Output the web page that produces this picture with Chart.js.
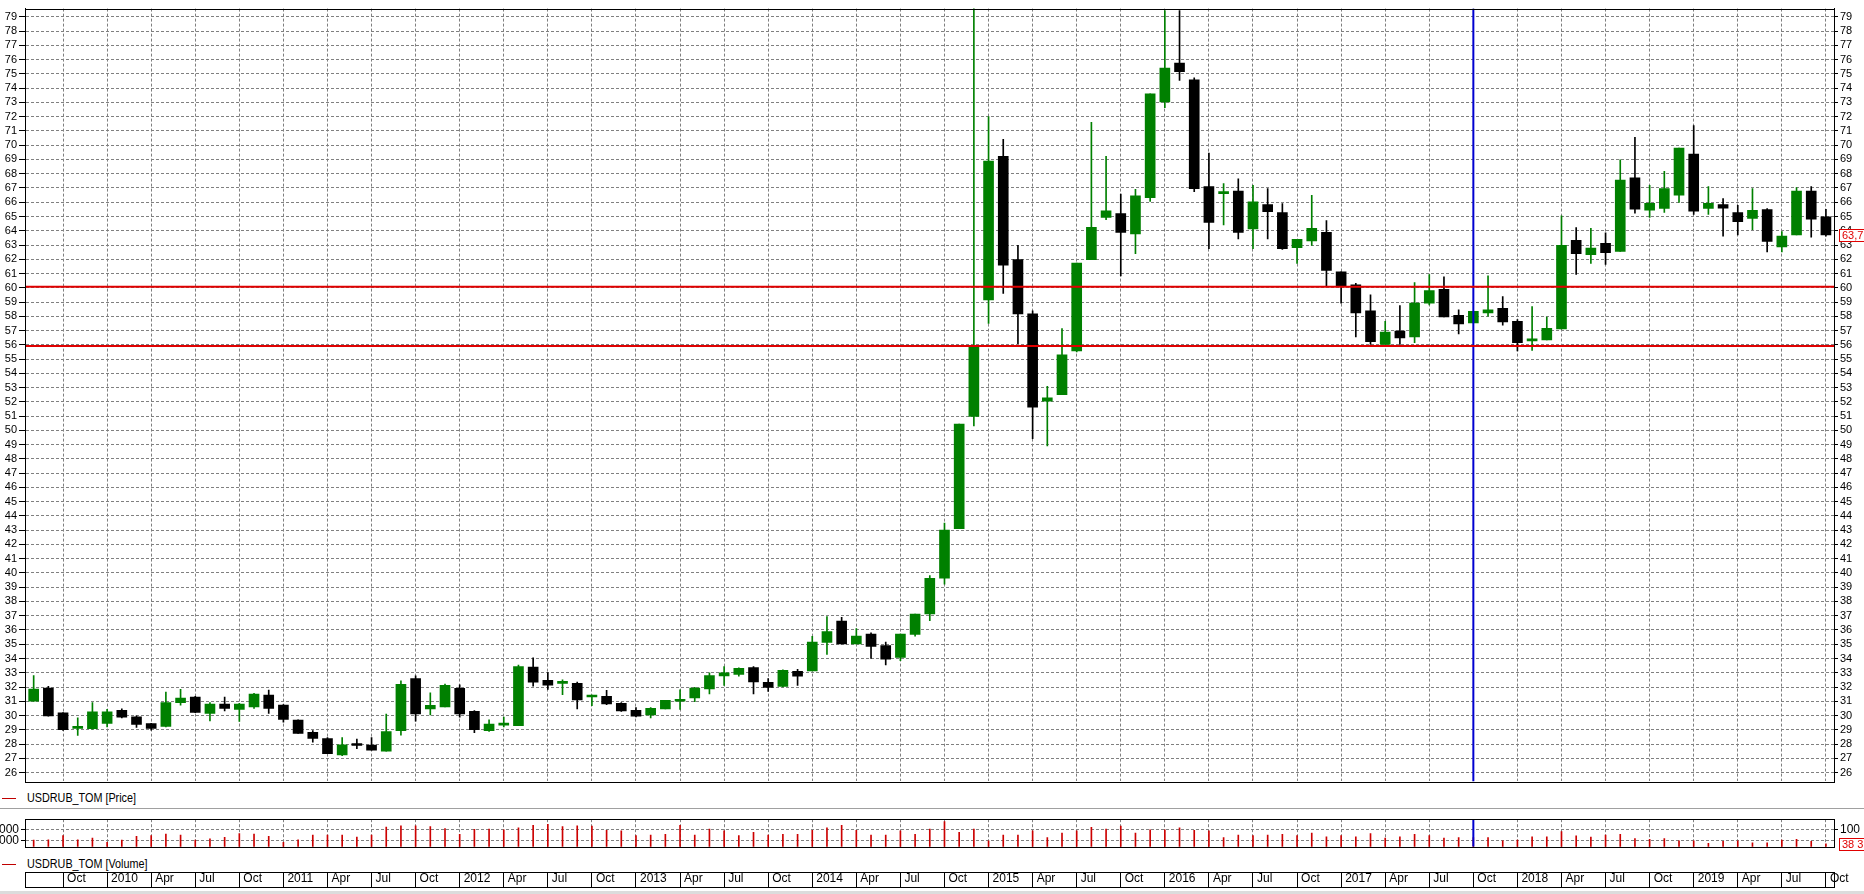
<!DOCTYPE html>
<html>
<head>
<meta charset="utf-8">
<script src="https://cdn.jsdelivr.net/npm/chart.js@4.4.0/dist/chart.umd.min.js"></script>
<style>
  html, body { margin: 0; padding: 0; background: #fff; }
  body { width: 1864px; height: 894px; position: relative; overflow: hidden;
         font-family: 'Liberation Sans', Arial, sans-serif; }
  canvas { position: absolute; left: 0; }
  .legend { position: absolute; left: 0; width: 400px; height: 14px; font-size: 12px; line-height: 14px; }
  .legend .dash { position: absolute; left: 2px; top: 7px; width: 14px; height: 1px; background: #c00000; }
  .legend .txt { position: absolute; left: 27px; top: 0; white-space: nowrap;
                 transform: scaleX(0.9); transform-origin: 0 0; }
  #sep { position: absolute; left: 0; top: 808px; width: 1864px; height: 1px; background: #a0a0a0; }
  #scroll { position: absolute; left: 0; top: 891px; width: 1864px; height: 3px; background: #dcdcdc; }
</style>
</head>
<body>
<canvas id="price" width="1864" height="790" style="top:0px"></canvas>
<div class="legend" style="top:791px"><span class="dash"></span><span class="txt">USDRUB_TOM [Price]</span></div>
<div id="sep"></div>
<canvas id="volume" width="1864" height="46" style="top:810px"></canvas>
<div class="legend" style="top:857px"><span class="dash"></span><span class="txt">USDRUB_TOM [Volume]</span></div>
<canvas id="dates" width="1864" height="22" style="top:870px"></canvas>
<div id="scroll"></div>
<script>
// monthly candles, Aug 2009 - Oct 2019
var months = [
  '2009-08','2009-09','2009-10','2009-11','2009-12',
  '2010-01','2010-02','2010-03','2010-04','2010-05','2010-06','2010-07','2010-08','2010-09','2010-10','2010-11','2010-12',
  '2011-01','2011-02','2011-03','2011-04','2011-05','2011-06','2011-07','2011-08','2011-09','2011-10','2011-11','2011-12',
  '2012-01','2012-02','2012-03','2012-04','2012-05','2012-06','2012-07','2012-08','2012-09','2012-10','2012-11','2012-12',
  '2013-01','2013-02','2013-03','2013-04','2013-05','2013-06','2013-07','2013-08','2013-09','2013-10','2013-11','2013-12',
  '2014-01','2014-02','2014-03','2014-04','2014-05','2014-06','2014-07','2014-08','2014-09','2014-10','2014-11','2014-12',
  '2015-01','2015-02','2015-03','2015-04','2015-05','2015-06','2015-07','2015-08','2015-09','2015-10','2015-11','2015-12',
  '2016-01','2016-02','2016-03','2016-04','2016-05','2016-06','2016-07','2016-08','2016-09','2016-10','2016-11','2016-12',
  '2017-01','2017-02','2017-03','2017-04','2017-05','2017-06','2017-07','2017-08','2017-09','2017-10','2017-11','2017-12',
  '2018-01','2018-02','2018-03','2018-04','2018-05','2018-06','2018-07','2018-08','2018-09','2018-10','2018-11','2018-12',
  '2019-01','2019-02','2019-03','2019-04','2019-05','2019-06','2019-07','2019-08','2019-09','2019-10'
];

var opens = [
  31.0, 31.93, 30.19, 29.1, 29.08,
  29.45, 30.37, 29.91, 29.43, 29.24, 30.9, 31.3, 30.14, 30.81, 30.42, 30.6, 31.44,
  30.74, 29.68, 28.82, 28.38, 27.23, 27.95, 27.92, 27.5, 28.94, 32.6, 30.47, 30.61,
  31.9, 30.3, 28.94, 29.33, 29.29, 33.4, 32.46, 32.25, 32.25, 31.3, 31.35, 30.86,
  30.37, 30.05, 30.47, 31.0, 31.23, 31.86, 32.78, 32.88, 33.36, 32.33, 32.04, 33.1,
  33.12, 35.13, 36.63, 35.03, 35.72, 34.91, 34.07, 35.68, 37.13, 39.64, 43.11, 50.97,
  59.15, 69.22, 61.97, 58.18, 52.05, 52.51, 55.57, 61.97, 64.94, 65.21, 63.78, 66.32,
  73.03, 75.76, 74.58, 67.09, 66.6, 66.79, 64.12, 65.84, 65.28, 62.81, 63.29, 63.89,
  61.12, 60.2, 58.39, 56.03, 56.96, 56.56, 58.92, 59.89, 58.07, 57.53, 58.23, 58.55,
  57.65, 56.28, 56.35, 57.12, 63.32, 62.32, 63.12, 62.55, 67.71, 65.44, 65.56, 66.49,
  69.38, 65.56, 65.84, 65.28, 64.87, 65.49, 62.86, 63.71, 66.79, 64.98
];
var highs = [
  32.8, 32.05, 30.2, 29.84, 30.9,
  30.44, 30.47, 29.98, 29.45, 31.65, 31.83, 31.35, 30.9, 31.3, 30.85, 31.55, 31.79,
  30.76, 29.7, 28.94, 28.45, 28.45, 28.34, 28.45, 30.1, 32.43, 32.78, 31.6, 32.2,
  32.16, 30.35, 29.7, 29.89, 33.54, 34.05, 33.01, 32.5, 32.34, 31.44, 31.76, 30.9,
  30.56, 30.56, 31.07, 31.81, 31.97, 32.99, 33.43, 33.35, 33.43, 32.59, 33.2, 33.24,
  35.56, 36.94, 36.89, 36.1, 35.8, 35.15, 35.72, 37.11, 39.81, 43.49, 50.44, 79.6,
  72.0, 70.42, 62.97, 58.39, 53.09, 57.14, 61.74, 71.6, 69.22, 66.58, 66.9, 73.61,
  79.44, 79.44, 74.72, 69.45, 67.3, 67.64, 67.18, 66.95, 65.91, 63.39, 66.49, 64.71,
  61.12, 60.31, 59.5, 57.65, 58.76, 60.36, 60.93, 60.77, 58.46, 58.34, 60.84, 59.38,
  57.77, 58.69, 57.95, 65.05, 64.22, 64.17, 63.85, 68.98, 70.56, 67.18, 68.17, 69.79,
  71.37, 67.09, 66.26, 65.79, 66.95, 65.56, 63.94, 67.02, 67.09, 65.51
];
var lows = [
  31.0, 29.95, 28.95, 28.6, 29.05,
  29.2, 29.84, 29.17, 28.98, 29.2, 30.72, 30.2, 29.63, 30.33, 29.59, 30.49, 30.14,
  29.54, 28.75, 28.13, 27.32, 27.18, 27.67, 27.57, 27.5, 28.62, 29.61, 30.05, 30.61,
  29.89, 28.8, 28.89, 29.2, 29.29, 32.06, 31.83, 31.46, 30.47, 30.7, 30.77, 30.28,
  29.91, 29.84, 30.47, 30.42, 30.98, 31.51, 32.11, 32.76, 31.52, 31.69, 32.0, 32.12,
  33.12, 34.29, 35.03, 35.03, 34.0, 33.55, 33.84, 35.56, 36.66, 39.21, 43.11, 50.32,
  57.5, 59.6, 56.08, 49.41, 48.9, 52.51, 55.5, 61.97, 64.77, 60.84, 62.39, 66.05,
  72.64, 74.54, 66.74, 62.74, 64.4, 63.43, 62.74, 63.43, 62.69, 61.7, 62.97, 60.12,
  58.92, 56.56, 56.03, 56.03, 56.03, 56.15, 58.8, 57.95, 56.77, 57.53, 58.0, 57.37,
  55.57, 55.61, 56.35, 57.12, 60.93, 61.7, 61.63, 62.55, 65.24, 64.94, 65.28, 65.98,
  65.14, 65.14, 63.62, 63.71, 64.08, 62.51, 62.51, 63.71, 63.55, 63.62
];
var closes = [
  31.85, 29.98, 29.0, 29.2, 30.26,
  30.26, 29.89, 29.38, 29.1, 30.9, 31.23, 30.21, 30.81, 30.49, 30.81, 31.5, 30.49,
  29.73, 28.75, 28.4, 27.32, 27.94, 27.9, 27.57, 28.87, 32.18, 30.12, 30.72, 32.11,
  30.12, 29.01, 29.4, 29.4, 33.43, 32.34, 32.13, 32.3, 31.09, 31.35, 30.81, 30.33,
  29.96, 30.51, 31.07, 31.05, 31.92, 32.8, 32.99, 33.31, 32.35, 31.97, 33.17, 32.76,
  35.15, 35.89, 35.03, 35.58, 34.84, 33.96, 35.72, 37.11, 39.62, 43.01, 50.44, 55.89,
  68.89, 61.58, 58.16, 51.63, 52.28, 55.29, 61.74, 64.24, 65.4, 63.89, 66.44, 73.61,
  75.41, 75.16, 66.95, 64.59, 66.65, 63.89, 66.02, 65.33, 62.74, 63.39, 64.17, 61.21,
  60.15, 58.23, 56.22, 56.89, 56.49, 58.92, 59.8, 57.95, 57.46, 58.34, 58.46, 57.6,
  56.15, 56.35, 57.16, 62.97, 62.39, 62.78, 62.46, 67.55, 65.51, 65.93, 66.95, 69.79,
  65.37, 65.93, 65.58, 64.63, 65.44, 63.25, 63.62, 66.79, 64.82, 63.7
];
var volumes = [
  40, 42, 67, 42, 51,
  27, 40, 62, 67, 76, 70, 40, 47, 56, 79, 76, 62,
  26, 42, 70, 70, 70, 58, 70, 117, 124, 124, 120, 108,
  74, 103, 105, 100, 112, 127, 133, 120, 124, 123, 97, 94,
  67, 70, 74, 127, 70, 105, 94, 67, 86, 70, 74, 74,
  97, 112, 127, 97, 70, 70, 94, 74, 105, 150, 86, 105,
  36, 70, 70, 94, 55, 82, 94, 115, 105, 123, 82, 100,
  100, 112, 97, 94, 55, 70, 67, 70, 74, 67, 82, 59,
  67, 59, 79, 51, 59, 74, 67, 51, 55, 55, 55, 36,
  40, 59, 59, 90, 65, 57, 70, 74, 49, 44, 49, 36,
  36, 21, 33, 36, 24, 24, 40, 44, 33, 18
];
var levels = [60.07, 55.92];
var markerMonth = '2017-10';
var volumeTicks = [36.4, 100];
var volumeLeftLabels = ['100000', '200000'];
var volumeBoxText = '38 3';

var FONT = "'Liberation Sans', Arial, sans-serif";
Chart.defaults.font.family = FONT;
Chart.defaults.color = '#000';

var GREEN = '#008000';
var GRID = '#808080';
var xMin = -0.59, xMax = months.length - 1 + 0.55;
var priceMin = 25.38, priceMax = 79.58;
var volMax = 163.6;
var markerX = months.indexOf(markerMonth);

var quarterIdx = [];
months.forEach(function(m, i) {
  if (['01', '04', '07', '10'].indexOf(m.slice(5)) >= 0) quarterIdx.push(i);
});
function quarterLabel(i) {
  var m = months[i], mm = m.slice(5);
  if (mm === '01') return m.slice(0, 4);
  return {'04': 'Apr', '07': 'Jul', '10': 'Oct'}[mm];
}
function quarterTicks(scale) {
  scale.ticks = quarterIdx.map(function(v) { return {value: v}; });
}
function priceTicks(scale) {
  var t = [];
  for (var v = Math.ceil(priceMin); v <= Math.floor(priceMax); v++) t.push({value: v});
  scale.ticks = t;
}
function halfTicks(scale) {
  var t = [];
  for (var v = Math.ceil(priceMin); v <= Math.floor(priceMax); v++) t.push({value: v - 0.5});
  scale.ticks = t;
}

var candleColors = closes.map(function(c, i) { return c >= opens[i] ? GREEN : '#000000'; });
var bodies = opens.map(function(o, i) { return {x: i, y: [o, closes[i]]}; });
var wicks = lows.map(function(l, i) { return {x: i, y: [l, highs[i]]}; });

// border round the plot area
var frame = {
  id: 'frame',
  afterDraw: function(chart) {
    var a = chart.chartArea, ctx = chart.ctx;
    ctx.save();
    ctx.strokeStyle = '#000';
    ctx.lineWidth = 1;
    ctx.strokeRect(Math.round(a.left) + 0.5, Math.round(a.top) + 0.5,
                   Math.round(a.right - a.left), Math.round(a.bottom - a.top));
    ctx.restore();
  }
};

// border round the date strip (the x axis box itself)
var dateFrame = {
  id: 'dateFrame',
  afterDraw: function(chart) {
    var s = chart.scales.x, ctx = chart.ctx;
    ctx.save();
    ctx.strokeStyle = '#000';
    ctx.lineWidth = 1;
    ctx.strokeRect(Math.round(s.left) + 0.5, Math.round(s.top) + 0.5,
                   Math.round(s.right - s.left), Math.round(s.bottom - s.top) - 1);
    ctx.restore();
  }
};

// red box with the last value on the right scale
function valueBox(scaleId, value, text) {
  return {
    id: 'valueBox',
    afterDraw: function(chart) {
      var ctx = chart.ctx, a = chart.chartArea;
      var y = Math.round(chart.scales[scaleId].getPixelForValue(value));
      ctx.save();
      ctx.fillStyle = '#fff';
      ctx.fillRect(a.right + 5, y - 6, 40, 13);
      ctx.strokeStyle = '#e00000';
      ctx.lineWidth = 1;
      ctx.strokeRect(a.right + 5.5, y - 5.5, 40, 12);
      ctx.fillStyle = '#e00000';
      ctx.font = '11px ' + FONT;
      ctx.textBaseline = 'middle';
      ctx.fillText(text, a.right + 8, y + 1);
      ctx.restore();
    }
  };
}

// half-unit minor tick marks, no labels, zero width so they sit on the main axis line
function minorAxis(position) {
  return {
    position: position, min: priceMin, max: priceMax,
    afterBuildTicks: halfTicks,
    afterFit: function(s) { s.width = 0; },
    ticks: {display: false, autoSkip: false},
    grid: {drawOnChartArea: false, tickColor: '#000', tickLength: 3},
    border: {display: false}
  };
}

var tickFont = {size: 11};

// price panel
new Chart(document.getElementById('price'), {
  type: 'bar',
  data: {
    datasets: [
      {type: 'line', data: [{x: xMin, y: levels[0]}, {x: xMax, y: levels[0]}],
       borderColor: '#e00000', borderWidth: 2, pointRadius: 0, order: 0},
      {type: 'line', data: [{x: xMin, y: levels[1]}, {x: xMax, y: levels[1]}],
       borderColor: '#e00000', borderWidth: 2, pointRadius: 0, order: 0},
      {type: 'line', data: [{x: markerX, y: priceMin}, {x: markerX, y: priceMax}],
       borderColor: '#0000d0', borderWidth: 2, pointRadius: 0, order: 0},
      {data: bodies, backgroundColor: candleColors, barThickness: 10, minBarLength: 2,
       grouped: false, order: 2},
      {data: wicks, backgroundColor: candleColors, barThickness: 1, grouped: false, order: 3}
    ]
  },
  options: {
    responsive: false,
    animation: false,
    layout: {padding: {top: 4, left: 0, right: 0, bottom: 0}},
    plugins: {legend: {display: false}, tooltip: {enabled: false}},
    scales: {
      x: {
        type: 'linear', min: xMin, max: xMax, offset: false,
        afterBuildTicks: quarterTicks,
        afterFit: function(s) { s.height = 5; },
        ticks: {display: false},
        grid: {color: GRID, drawTicks: false, offset: false},
        border: {display: false, dash: [3, 2]}
      },
      y: {
        position: 'left', min: priceMin, max: priceMax,
        afterBuildTicks: priceTicks,
        afterFit: function(s) { s.width = 25; },
        ticks: {font: tickFont, padding: 2, autoSkip: false},
        grid: {color: GRID, tickColor: '#000', tickLength: 6},
        border: {display: true, color: '#000', dash: [3, 2]}
      },
      yMinor: minorAxis('left'),
      y2: {
        position: 'right', min: priceMin, max: priceMax,
        afterBuildTicks: priceTicks,
        afterFit: function(s) { s.width = 30; },
        ticks: {font: tickFont, padding: 2, autoSkip: false},
        grid: {drawOnChartArea: false, tickColor: '#000', tickLength: 4},
        border: {display: true, color: '#000'}
      },
      y2Minor: minorAxis('right')
    }
  },
  plugins: [frame, valueBox('y2', closes[closes.length - 1],
                            closes[closes.length - 1].toFixed(1).replace('.', ','))]
});

// volume panel
new Chart(document.getElementById('volume'), {
  type: 'bar',
  data: {
    datasets: [
      {type: 'line', data: [{x: markerX, y: 0}, {x: markerX, y: volMax}],
       borderColor: '#0000d0', borderWidth: 2, pointRadius: 0, order: 0},
      {data: volumes.map(function(v, i) { return {x: i, y: v}; }),
       backgroundColor: '#cc0000', barThickness: 1, grouped: false, order: 1}
    ]
  },
  options: {
    responsive: false,
    animation: false,
    layout: {padding: {top: 5, left: 0, right: 0, bottom: 0}},
    plugins: {legend: {display: false}, tooltip: {enabled: false}},
    scales: {
      x: {
        type: 'linear', min: xMin, max: xMax, offset: false,
        afterBuildTicks: quarterTicks,
        afterFit: function(s) { s.height = 5; },
        ticks: {display: false},
        grid: {color: GRID, drawTicks: false, offset: false},
        border: {display: false, dash: [3, 2]}
      },
      y: {
        position: 'left', min: 0, max: volMax,
        afterBuildTicks: function(s) { s.ticks = volumeTicks.map(function(v) { return {value: v}; }); },
        afterFit: function(s) { s.width = 25; },
        ticks: {font: {size: 12}, padding: 2, autoSkip: false,
                callback: function(v, i) { return volumeLeftLabels[i]; }},
        grid: {color: GRID, tickColor: '#000', tickLength: 4},
        border: {display: true, color: '#000', dash: [3, 2]}
      },
      y2: {
        position: 'right', min: 0, max: volMax,
        afterBuildTicks: function(s) { s.ticks = [{value: 100}]; },
        afterFit: function(s) { s.width = 30; },
        ticks: {font: {size: 12}, padding: 2, autoSkip: false},
        grid: {drawOnChartArea: false, tickColor: '#000', tickLength: 4},
        border: {display: true, color: '#000'}
      }
    }
  },
  plugins: [frame, valueBox('y', volumes[volumes.length - 1], volumeBoxText)]
});

// date strip: the x axis itself forms the boxed row, tick marks are the separators
new Chart(document.getElementById('dates'), {
  type: 'bar',
  data: {datasets: []},
  options: {
    responsive: false,
    animation: false,
    layout: {padding: {top: 2, left: 25, right: 30, bottom: 4}},
    plugins: {legend: {display: false}, tooltip: {enabled: false}},
    scales: {
      x: {
        type: 'linear', min: xMin, max: xMax, offset: false,
        afterBuildTicks: quarterTicks,
        afterFit: function(s) { s.height = 16; },
        ticks: {callback: function(v) { return quarterLabel(v); }, align: 'start',
                labelOffset: 4, padding: -16, autoSkip: false, maxRotation: 0,
                font: {size: 12}},
        grid: {drawOnChartArea: false, drawTicks: true, tickLength: 15,
               tickColor: '#000', offset: false},
        border: {display: false}
      },
      y: {display: false}
    }
  },
  plugins: [dateFrame]
});
</script>
</body>
</html>
